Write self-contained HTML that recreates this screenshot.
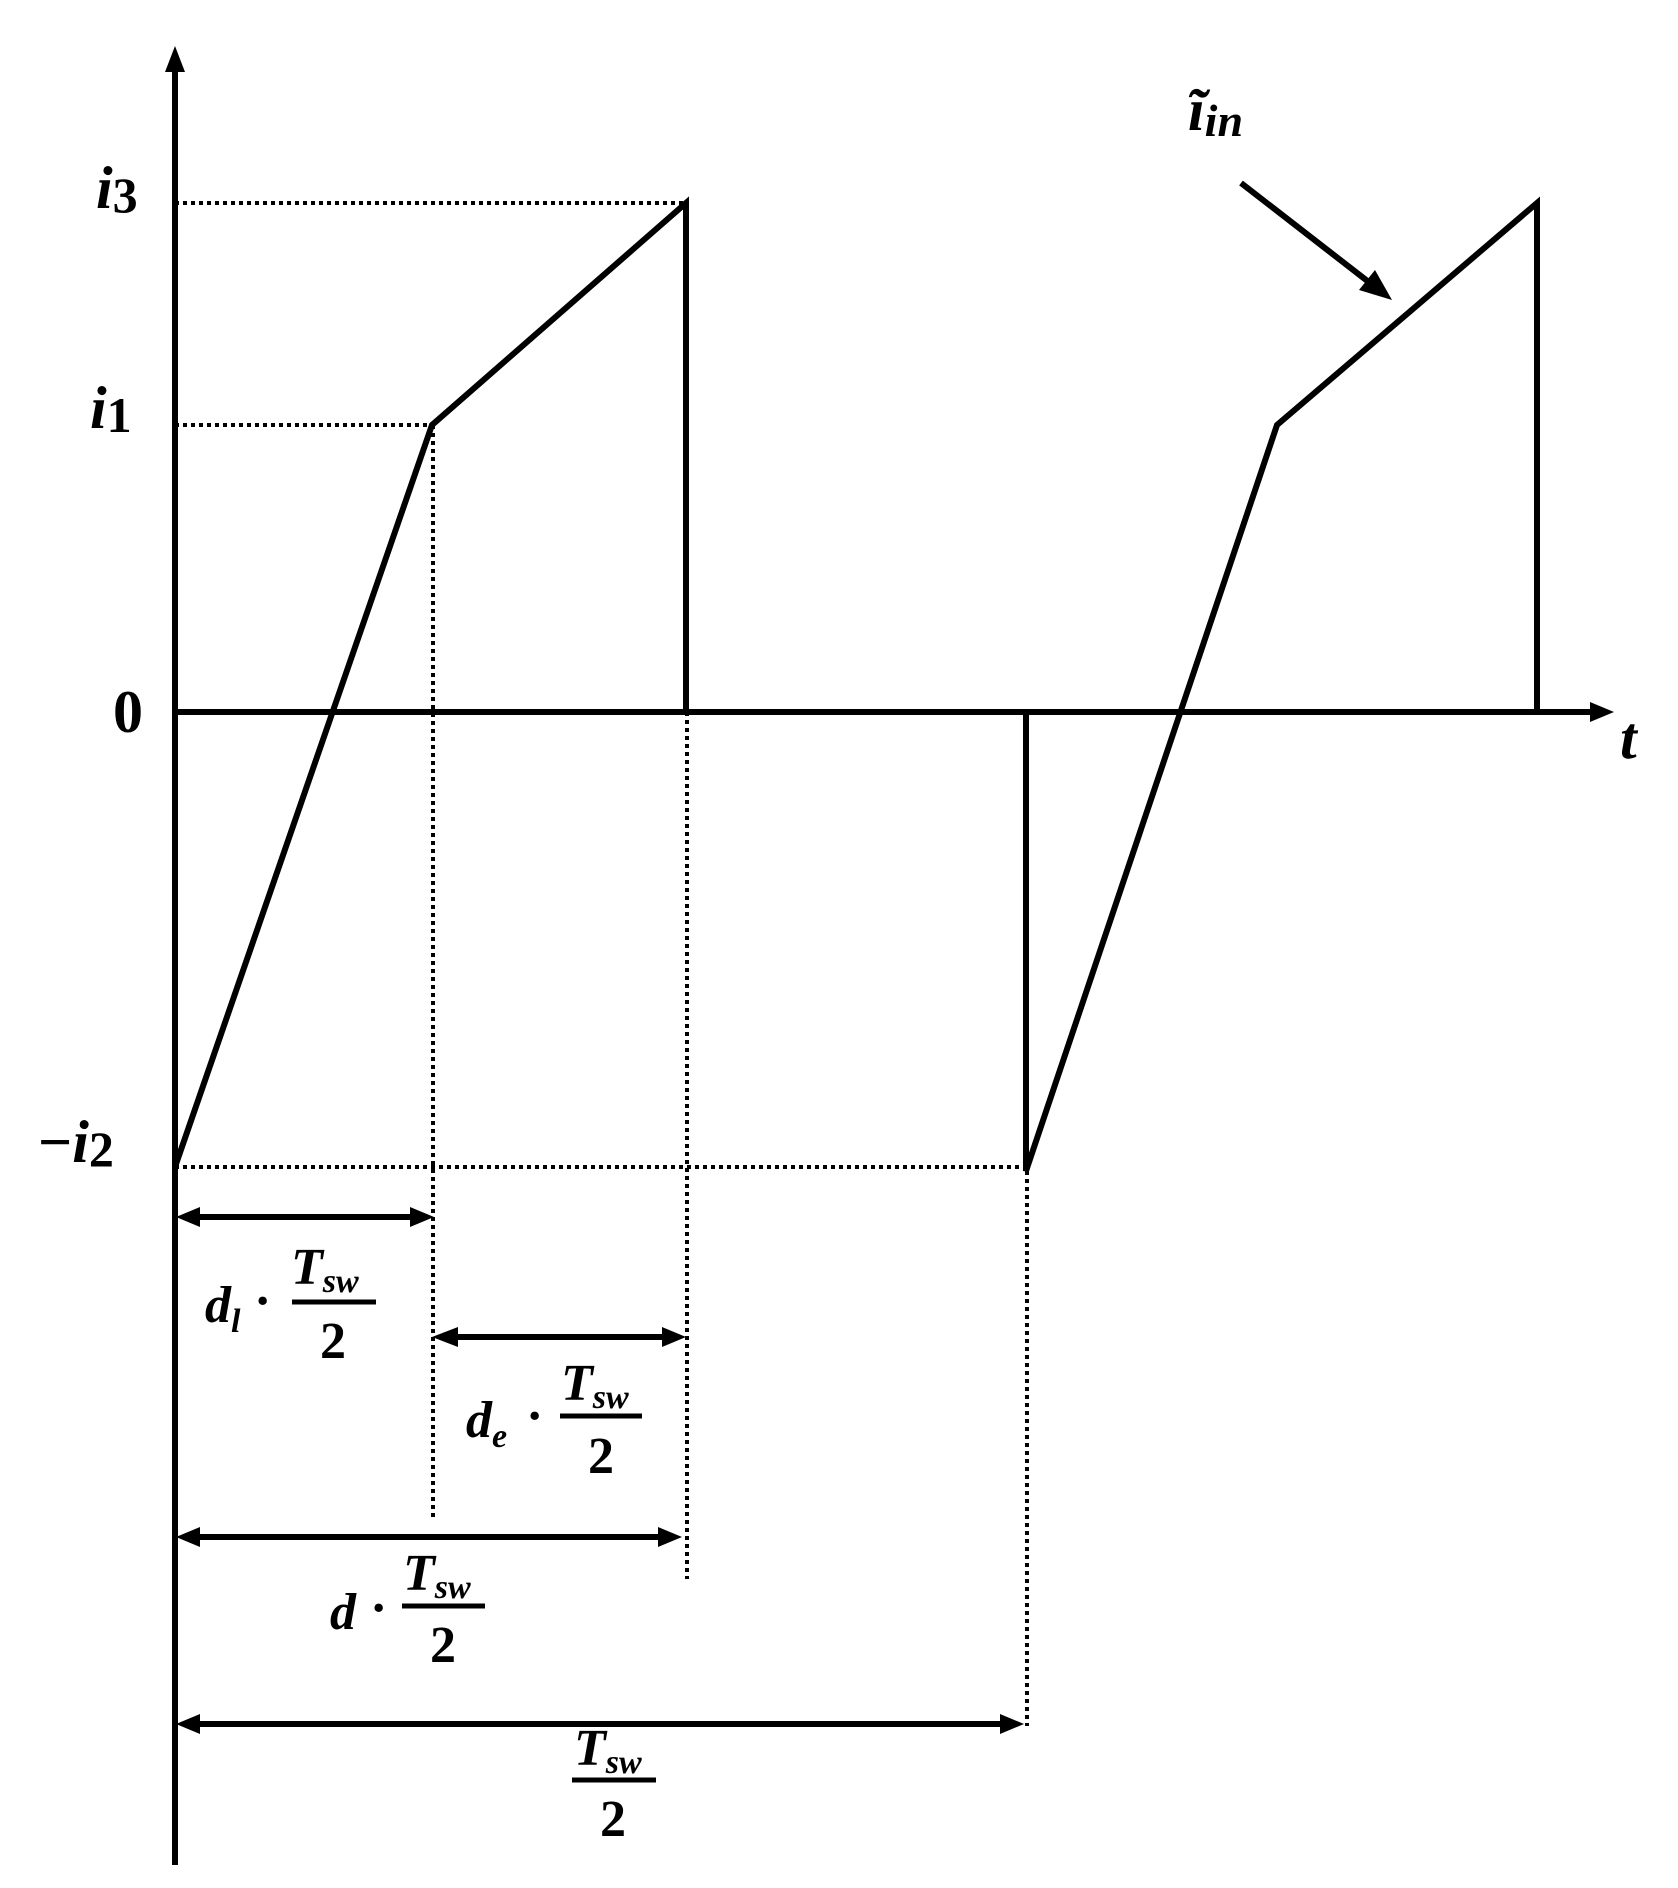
<!DOCTYPE html>
<html><head><meta charset="utf-8"><style>
html,body{margin:0;padding:0;background:#fff;}
svg{display:block;}
text{font-family:"Liberation Serif",serif;font-weight:bold;font-style:italic;fill:#000;}
.n{font-style:normal;}
</style></head><body>
<svg width="1678" height="1888" viewBox="0 0 1678 1888" xmlns="http://www.w3.org/2000/svg">
<g stroke="#000" stroke-width="4" stroke-dasharray="4,4" fill="none">
<line x1="175" y1="203" x2="686" y2="203"/>
<line x1="175" y1="425" x2="432" y2="425"/>
<line x1="175" y1="1167" x2="1026" y2="1167"/>
<line x1="433" y1="425" x2="433" y2="1518"/>
<line x1="687" y1="712" x2="687" y2="1579"/>
<line x1="1027" y1="1171" x2="1027" y2="1726"/>
</g>
<g stroke="#000" stroke-width="6" fill="none" stroke-linejoin="miter">
<line x1="175" y1="58" x2="175" y2="1865"/>
<line x1="175" y1="712" x2="1600" y2="712"/>
<polyline points="175,1167 432,425 686,203 686,712"/>
<polyline points="1026,712 1026,1171 1277,425 1537,203 1537,712"/>
<line x1="1241" y1="183" x2="1370" y2="283"/>
<line x1="200" y1="1217" x2="410" y2="1217"/>
<line x1="458" y1="1337" x2="662" y2="1337"/>
<line x1="200" y1="1537" x2="658" y2="1537"/>
<line x1="200" y1="1724" x2="1000" y2="1724"/>
</g>
<g fill="#000">
<polygon points="175,46 165,72 185,72"/>
<polygon points="1614,712 1590,702 1590,722"/>
<polygon points="1392,300 1359,290 1375,270"/>
<polygon points="176,1217 200,1207 200,1227"/><polygon points="434,1217 410,1207 410,1227"/>
<polygon points="432,1337 458,1327 458,1347"/><polygon points="686,1337 662,1327 662,1347"/>
<polygon points="176,1537 200,1527 200,1547"/><polygon points="682,1537 658,1527 658,1547"/>
<polygon points="176,1724 200,1714 200,1734"/><polygon points="1024,1724 1000,1714 1000,1734"/>
</g>
<g font-size="60">
<text x="96" y="208">i<tspan class="n" font-size="50" dy="4">3</tspan></text>
<text x="90" y="428">i<tspan class="n" font-size="50" dy="4">1</tspan></text>
<text x="113" y="732" class="n">0</text>
<text x="38" y="1162"><tspan class="n">−</tspan>i<tspan class="n" font-size="50" dy="4">2</tspan></text>
<text x="1620" y="758">t</text>
<text x="1188" y="130">ĩ<tspan font-size="46" dy="6">in</tspan></text>
</g>
<g font-size="52">
<text x="205" y="1322">d<tspan font-size="34" dy="10">l</tspan></text>
<text x="254" y="1318" class="n">·</text>
<text x="291" y="1284">T<tspan font-size="34" dy="8">sw</tspan></text>
<line x1="292" y1="1302" x2="376" y2="1302" stroke="#000" stroke-width="5"/>
<text x="320" y="1358" class="n">2</text>

<text x="466" y="1437">d<tspan font-size="34" dy="10">e</tspan></text>
<text x="526" y="1433" class="n">·</text>
<text x="561" y="1400">T<tspan font-size="34" dy="8">sw</tspan></text>
<line x1="560" y1="1416" x2="642" y2="1416" stroke="#000" stroke-width="5"/>
<text x="588" y="1473" class="n">2</text>

<text x="330" y="1629">d</text>
<text x="370" y="1625" class="n">·</text>
<text x="403" y="1590">T<tspan font-size="34" dy="8">sw</tspan></text>
<line x1="402" y1="1606" x2="485" y2="1606" stroke="#000" stroke-width="5"/>
<text x="430" y="1662" class="n">2</text>

<text x="574" y="1765">T<tspan font-size="34" dy="8">sw</tspan></text>
<line x1="572" y1="1780" x2="656" y2="1780" stroke="#000" stroke-width="5"/>
<text x="600" y="1836" class="n">2</text>
</g>
</svg>
</body></html>
